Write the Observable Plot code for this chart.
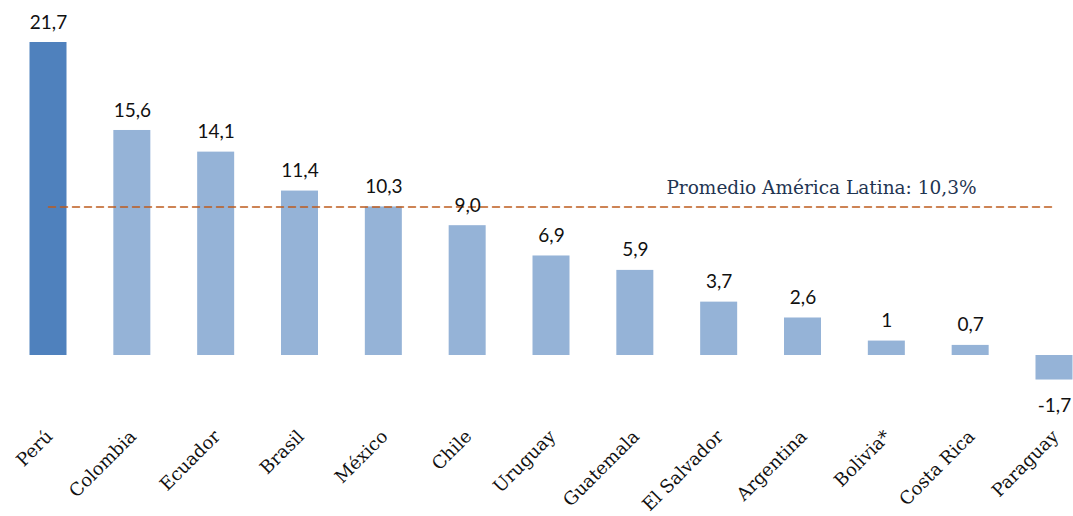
<!DOCTYPE html>
<html><head><meta charset="utf-8">
<script src="https://cdn.jsdelivr.net/npm/d3@7"></script>
<script src="https://cdn.jsdelivr.net/npm/@observablehq/plot@0.6"></script>
<style>body{margin:0;background:#fff}</style>
</head><body><div id="chart"></div>
<script>
const countries = ["Perú","Colombia","Ecuador","Brasil","México","Chile","Uruguay","Guatemala","El Salvador","Argentina","Bolivia*","Costa Rica","Paraguay"];
const values = [21.7,15.6,14.1,11.4,10.3,9.0,6.9,5.9,3.7,2.6,1,0.7,-1.7];
const valueLabels = ["21,7","15,6","14,1","11,4","10,3","9,0","6,9","5,9","3,7","2,6","1","0,7","-1,7"];
const average = 10.3;
const averageLabel = "Promedio América Latina: 10,3%";
const highlight = "Perú";

const data = countries.map((c,i)=>({country:c, value:values[i], label:valueLabels[i]}));
const labelFont = "Lato, 'Open Sans', sans-serif";

const chart = Plot.plot({
  width: 1073, height: 516,
  marginLeft: 0, marginRight: 0, marginTop: 0, marginBottom: 101,
  style: {background: "#fff"},
  x: {domain: countries, range: [29.5, 1072.5], paddingInner: 0.5586, paddingOuter: 0, round: false, label: null},
  y: {domain: [0, 21.7], range: [355, 42], axis: null},
  marks: [
    Plot.barY(data, {x: "country", y: "value", fill: d => d.country === highlight ? "#4f81bd" : "#95b3d7"}),
    Plot.lineY(countries, {x: d => d, y: () => average, stroke: "#bd5b1c", strokeWidth: 1.5, strokeDasharray: "7,5"}),
    Plot.text(data.filter(d => d.value >= 0), {x: "country", y: "value", text: "label", dy: -20,
      fontSize: 19, fontFamily: labelFont, fill: "#111"}),
    Plot.text(data.filter(d => d.value < 0), {x: "country", y: "value", text: "label", dy: 26,
      fontSize: 19, fontFamily: labelFont, fill: "#111"}),
    Plot.text([averageLabel], {frameAnchor: "right", y: () => average, text: d => d, dx: -97, dy: -19,
      textAnchor: "end", fontSize: 18.5, fontFamily: "'DejaVu Serif', serif", fill: "#1f3552"}),
    Plot.axisX({tickSize: 0, tickRotate: -45, tickPadding: 18, fontSize: 18, fontFamily: "'DejaVu Serif', serif", fill: "#111", label: null, dx: 1})
  ]
});
document.getElementById("chart").append(chart);
</script></body></html>
